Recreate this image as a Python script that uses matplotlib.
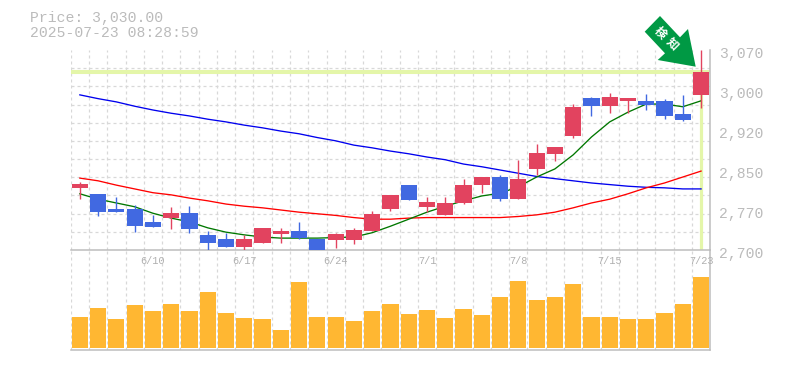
import matplotlib
matplotlib.use('Agg')
import matplotlib.pyplot as plt
import matplotlib.transforms as mtrans
from matplotlib.patches import Polygon
import numpy as np

W, H = 785, 370

opens = [2815, 2804, 2776, 2776, 2752, 2759, 2768, 2728, 2720, 2706, 2713, 2730, 2735, 2720, 2718, 2718, 2735, 2776,
         2820, 2780, 2765, 2787, 2820, 2835, 2794, 2850, 2878, 2911, 2981, 2966, 2976, 2976, 2976, 2952, 2987]
closes = [2822, 2770, 2770, 2744, 2743, 2768, 2739, 2713, 2706, 2720, 2741, 2735, 2722, 2700, 2730, 2737, 2767, 2802,
          2792, 2789, 2787, 2820, 2835, 2794, 2831, 2879, 2891, 2965, 2966, 2983, 2981, 2968, 2948, 2940, 3030]
highs = [2826, 2804, 2798, 2783, 2765, 2780, 2781, 2735, 2731, 2728, 2741, 2741, 2752, 2720, 2731, 2741, 2772, 2802,
         2820, 2798, 2798, 2831, 2835, 2839, 2866, 2896, 2891, 2970, 2983, 2990, 2981, 2989, 2979, 2987, 3070]
lows = [2794, 2763, 2770, 2733, 2743, 2739, 2731, 2700, 2706, 2700, 2713, 2713, 2720, 2700, 2704, 2711, 2735, 2772,
        2792, 2770, 2765, 2785, 2805, 2791, 2794, 2839, 2865, 2907, 2948, 2953, 2953, 2959, 2942, 2939, 2963]
ma_short = [2804, 2794, 2787, 2780, 2768, 2759, 2752, 2741, 2733, 2728, 2724, 2722, 2722, 2722, 2723, 2724, 2732, 2744,
            2757, 2770, 2781, 2791, 2800, 2805, 2817, 2835, 2850, 2876, 2909, 2937, 2955, 2970, 2970, 2965, 2976]
ma_mid = [2833, 2828, 2820, 2813, 2806, 2802, 2796, 2791, 2785, 2781, 2778, 2774, 2770, 2767, 2764, 2760, 2757, 2757,
          2759, 2760, 2760, 2760, 2760, 2760, 2762, 2765, 2770, 2778, 2787, 2794, 2804, 2815, 2824, 2835, 2846]
ma_long = [2987, 2980, 2974, 2966, 2959, 2953, 2948, 2942, 2937, 2931, 2926, 2920, 2915, 2908, 2902, 2894, 2889, 2883,
           2878, 2872, 2867, 2859, 2854, 2848, 2842, 2836, 2832, 2828, 2824, 2821, 2818, 2816, 2815, 2813, 2813]
volumes = [31, 40, 29, 43, 37, 44, 37, 56, 35, 30, 29, 18, 66, 31, 31, 27, 37, 44,
           34, 38, 30, 39, 33, 51, 67, 48, 51, 64, 31, 31, 29, 29, 35, 44, 71]
date_pos = [4, 9, 14, 19, 24, 29, 34]
date_labels = ['6/10', '6/17', '6/24', '7/1', '7/8', '7/15', '7/23']
price_ticks = [2700, 2774, 2848, 2922, 2996, 3070]
price_labels = ['2,700', '2,770', '2,850', '2,920', '3,000', '3,070']
last_price = 3030

mono = 'Liberation Mono'
txt_col = '#bbbbbb'
grid_col = '#d8d8d8'
up_col = '#e2435f'
down_col = '#4169e1'

fig = plt.figure(figsize=(W / 100, H / 100), dpi=100)


def px_axes(x0, y0, x1, y1):
    return fig.add_axes([x0 / W, 1 - y1 / H, (x1 - x0) / W, (y1 - y0) / H])


ax_vol = px_axes(70.7, 250, 710.2, 350)
ax = px_axes(70.7, 50, 710.2, 250)
ax.patch.set_alpha(0)

x = np.arange(len(opens))
opens, closes, highs, lows = map(np.array, (opens, closes, highs, lows))
cols = [up_col if c >= o else down_col for o, c in zip(opens, closes)]

# grid
for a in (ax, ax_vol):
    a.set_xlim(-0.5, 34.5)
    a.set_xticks(np.arange(-0.5, 34), minor=True)
    a.grid(which='minor', axis='x', color=grid_col, lw=0.9, ls=(0, (2.4, 2.4)))
    a.tick_params(which='both', length=0)
    a.set_axisbelow(True)
    for s in ('top', 'left'):
        a.spines[s].set_visible(False)
    for s in ('bottom', 'right'):
        a.spines[s].set_color('#bdbdbd')
        a.spines[s].set_linewidth(1.1)

ax.set_ylim(2700, 3070)
ax.set_yticks(np.linspace(2700, 3070, 12), minor=True)
ax.grid(which='minor', axis='y', color=grid_col, lw=0.9, ls=(0, (2.4, 2.4)))

# last price marker
ax.axhline(last_price, color='#e4f6a9', lw=2.9, zorder=1.5)
ax.vlines(x[-1], 2700, last_price, color='#e4f6a9', lw=2.3, zorder=1.5)

ax.plot(x, ma_long, color='#0000ee', lw=0.95, zorder=2)
ax.plot(x, ma_mid, color='#ff0000', lw=0.95, zorder=2)
ax.plot(x, ma_short, color='#007700', lw=0.95, zorder=2)

ax.vlines(x, lows, highs, color=cols, lw=1.0, zorder=3)
ax.bar(x, closes - opens, bottom=opens, width=16.2 / 18.27, color=cols, zorder=3)

ax.set_xticks(date_pos, date_labels, family=mono, fontsize=7.4, color='#b0b0b0')
ax.tick_params(axis='x', pad=4.5)
ax.yaxis.tick_right()
ax.set_yticks(price_ticks, price_labels, family=mono, fontsize=10.6, color=txt_col)
ax.tick_params(axis='y', pad=6.5)
shift = mtrans.ScaledTranslation(0, -3 / 100, fig.dpi_scale_trans)
for t in ax.get_yticklabels():
    t.set_transform(t.get_transform() + shift)
ax_vol.set_xticks([])
ax_vol.set_yticks([])

ax_vol.bar(x, volumes, width=16.2 / 18.27, color='#ffb732', zorder=3)
ax_vol.set_ylim(-2, 98)

fig.text(30 / W, 1 - 18 / H, 'Price: 3,030.00', family=mono, fontsize=10.6, color=txt_col, va='center')
fig.text(30 / W, 1 - 33 / H, '2025-07-23 08:28:59', family=mono, fontsize=10.6, color=txt_col, va='center')

# green arrow badge
arrow_px = [(660, 16), (680, 37.3), (688, 29), (695.7, 66.7), (657.7, 60), (665, 53.3), (644.7, 31.7)]
fig.add_artist(Polygon([(px / W, 1 - py / H) for px, py in arrow_px], closed=True,
                       transform=fig.transFigure, color='#009944', lw=0, zorder=5))
for ch, cx, cy in (('検', 660.5, 33), ('知', 672, 44)):
    fig.text(cx / W, 1 - cy / H, ch, family=['Noto Sans CJK JP', 'DejaVu Sans'], fontsize=8.5, color='white',
             weight='bold', rotation=-45, rotation_mode='anchor', ha='center', va='center', zorder=6)

fig.savefig('out.png', dpi=100)
